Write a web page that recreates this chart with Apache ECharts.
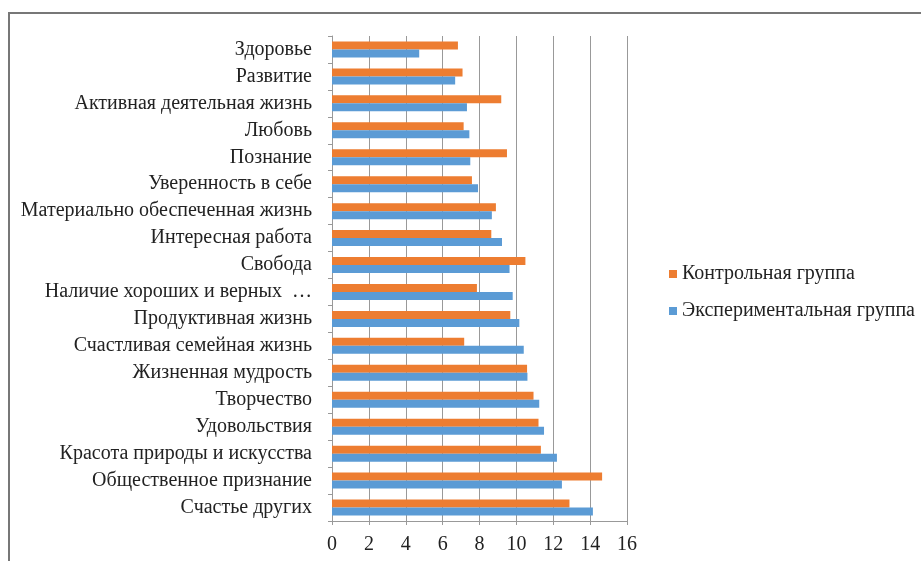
<!DOCTYPE html>
<html><head><meta charset="utf-8">
<script src="https://cdn.jsdelivr.net/npm/echarts@6/dist/echarts.min.js"></script>
<style>html,body{margin:0;padding:0;background:#fff}#c{width:921px;height:561px}</style>
</head><body><div id="c"></div>
<script>
const categories = ["Здоровье","Развитие","Активная деятельная жизнь","Любовь","Познание","Уверенность в себе","Материально обеспеченная жизнь","Интересная работа","Свобода","Наличие хороших и верных друзей","Продуктивная жизнь","Счастливая семейная жизнь","Жизненная мудрость","Творчество","Удовольствия","Красота природы и искусства","Общественное признание","Счастье других"];
const control = [6.83,7.08,9.18,7.14,9.49,7.59,8.89,8.64,10.49,7.86,9.67,7.17,10.58,10.93,11.2,11.33,14.65,12.88];
const experimental = [4.73,6.68,7.32,7.45,7.5,7.92,8.67,9.22,9.63,9.8,10.16,10.4,10.6,11.24,11.5,12.2,12.47,14.15];
const seriesNames = ["Контрольная группа","Экспериментальная группа"];
const xTicks = [0,2,4,6,8,10,12,14,16];

const chart = echarts.init(document.getElementById('c'));
const font = "'Liberation Serif', 'DejaVu Serif', serif";
chart.setOption({
  animation:false,
  backgroundColor:'#fff',
  graphic:[{type:'rect',shape:{x:9,y:13,width:1000,height:700},style:{fill:'none',stroke:'#777',lineWidth:2}}],
  legend:{orient:'vertical',left:664,top:259,itemWidth:8,itemHeight:8,itemGap:17,icon:'rect',
    data:seriesNames,textStyle:{fontFamily:font,fontSize:20,color:'#222'}},
  grid:{left:332,top:36,width:295,height:485,containLabel:false},
  xAxis:{type:'value',min:0,max:16,interval:2,
    axisLine:{show:true,lineStyle:{color:'#999'}},
    axisTick:{show:true,length:4,lineStyle:{color:'#999'}},
    splitLine:{show:true,lineStyle:{color:'#999',width:1}},
    axisLabel:{fontFamily:font,fontSize:20,color:'#222',margin:14,formatter:v=>xTicks.includes(v)?String(v):''}},
  yAxis:{type:'category',inverse:true,data:categories,
    axisLine:{show:true,lineStyle:{color:'#999'}},
    axisTick:{show:true,length:4,lineStyle:{color:'#999'}},
    axisLabel:{fontFamily:font,fontSize:20,color:'#222',margin:20,
      formatter:v=>v.length>30?v.slice(0,25)+' …':v}},
  series:[
    {name:seriesNames[0],type:'bar',data:control,itemStyle:{color:'#ED7D31'},barWidth:8,barGap:'0%'},
    {name:seriesNames[1],type:'bar',data:experimental,itemStyle:{color:'#5B9BD5'},barWidth:8,barGap:'0%'}
  ]
});
</script></body></html>
